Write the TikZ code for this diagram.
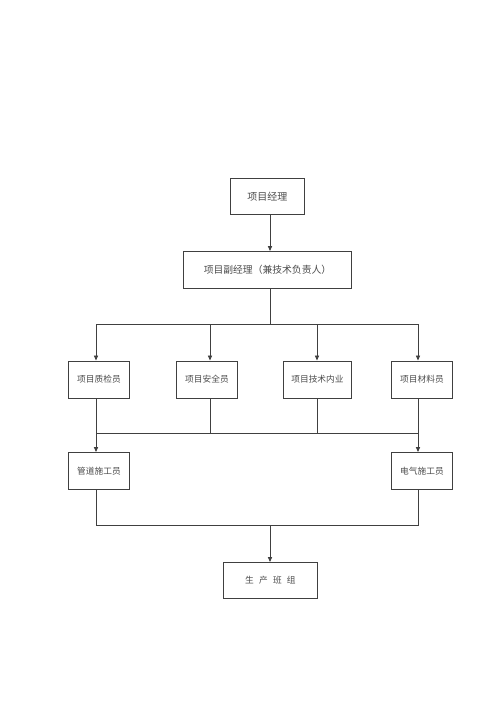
\documentclass[tikz,border=0pt]{standalone}
\usepackage{fontspec}
\setmainfont{Noto Sans CJK SC}
\usetikzlibrary{arrows.meta}
\begin{document}
\begin{tikzpicture}[x=1pt,y=-1pt,
  box/.style={draw=black!75,line width=0.9pt,inner sep=0pt,anchor=north west,text=black!70},
  ln/.style={draw=black!75,line width=0.9pt},
  arr/.style={ln,-{Triangle[length=5pt,width=4.2pt]}}]
\useasboundingbox (0,0) rectangle (500,707);
\fill[white] (0,0) rectangle (500,707);
\node[box,minimum width=74pt,minimum height=36pt,font=\fontsize{10}{12}\selectfont] (pm) at (230,178) {项目经理};
\node[box,minimum width=168pt,minimum height=37pt,font=\fontsize{9.8}{12}\selectfont] (dpm) at (183,251) {项目副经理（兼技术负责人）};
\node[box,minimum width=61pt,minimum height=37pt,font=\fontsize{8.7}{10}\selectfont] (a) at (68,360.5) {项目质检员};
\node[box,minimum width=61pt,minimum height=37pt,font=\fontsize{8.7}{10}\selectfont] (b) at (176,360.5) {项目安全员};
\node[box,minimum width=68pt,minimum height=37pt,font=\fontsize{8.7}{10}\selectfont] (c) at (283,360.5) {项目技术内业};
\node[box,minimum width=61pt,minimum height=37pt,font=\fontsize{8.7}{10}\selectfont] (d) at (391,360.5) {项目材料员};
\node[box,minimum width=61pt,minimum height=37pt,font=\fontsize{8.7}{10}\selectfont] (e) at (68,452) {管道施工员};
\node[box,minimum width=61pt,minimum height=37pt,font=\fontsize{8.7}{10}\selectfont] (f) at (391,452) {电气施工员};
\node[box,minimum width=94pt,minimum height=36pt,font=\fontsize{8.7}{10}\selectfont] (g) at (223,562) {生\hspace{0.6em}产\hspace{0.6em}班\hspace{0.6em}组};
% column coordinates
\coordinate (xa) at (96,0);
\coordinate (xb) at (210,0);
\coordinate (xc) at (317,0);
\coordinate (xd) at (418,0);
\coordinate (xm) at (270,0);
% top arrow
\draw[arr] (xm |- pm.south) -- (xm |- dpm.north);
% branch to row 3
\coordinate (j1) at (270,324);
\draw[ln] (xm |- dpm.south) -- (j1);
\draw[ln] (xa |- j1) -- (xd |- j1);
\draw[arr] (xa |- j1) -- (xa |- a.north);
\draw[arr] (xb |- j1) -- (xb |- b.north);
\draw[arr] (xc |- j1) -- (xc |- c.north);
\draw[arr] (xd |- j1) -- (xd |- d.north);
% merge to row 4
\coordinate (j2) at (0,433);
\draw[ln] (xa |- j2) -- (xd |- j2);
\draw[ln] (xb |- b.south) -- (xb |- j2);
\draw[ln] (xc |- c.south) -- (xc |- j2);
\draw[arr] (xa |- a.south) -- (xa |- e.north);
\draw[arr] (xd |- d.south) -- (xd |- f.north);
% merge to bottom
\coordinate (j3) at (0,525);
\draw[ln] (xa |- e.south) -- (xa |- j3) -- (xd |- j3) -- (xd |- f.south);
\draw[arr] (xm |- j3) -- (xm |- g.north);
\end{tikzpicture}
\end{document}
